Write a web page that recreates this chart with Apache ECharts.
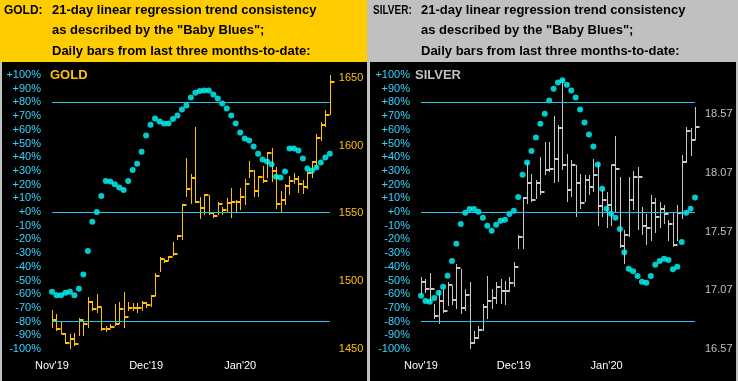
<!DOCTYPE html>
<html><head><meta charset="utf-8">
<script src="https://cdn.jsdelivr.net/npm/echarts/dist/echarts.min.js"></script>
<style>
html,body{margin:0;padding:0;background:#c0c0c0;}
#wrap{position:relative;width:738px;height:381px;overflow:hidden;}
.blk{position:absolute;}
#c{position:absolute;left:0;top:0;width:738px;height:381px;}
</style>
</head><body><div id="wrap">
<div class="blk" style="left:0;top:0;width:367px;height:62px;background:#ffcc00"></div>
<div class="blk" style="left:2px;top:62px;width:365px;height:319px;background:#000"></div>
<div class="blk" style="left:370px;top:0;width:368px;height:62px;background:#c0c0c0"></div>
<div class="blk" style="left:370px;top:62px;width:366px;height:319px;background:#000"></div>
<div id="c"></div></div>
<script>
// ---- categories / tick labels ----
const monthLabels = ["Nov'19", "Dec'19", "Jan'20"];
const monthIndex = [0, 21, 42];
const refLevels = [80, 0, -80];

// ---- GOLD ----
const goldPct = [-58.3,-60.7,-60.7,-59,-58.3,-60.7,-56,-45.6,-28.5,-7.1,
 0,11.7,22.7,22.2,20.3,17.8,16.1,22.7,30.7,35.3,
 43.9,55.8,63.6,68.3,66.1,64.6,64.6,67.8,70.4,74.8,
 77.8,83.6,87,88.3,88.7,88.7,85.8,82.9,79.2,75.6,
 70.4,64.6,58,53.6,52.2,47.8,42.6,38.3,36.8,34.9,
 25.8,25.1,29.5,46.3,46.3,44.8,39,31.7,30.2,32.4,
 36.1,39.7,42.6];
const goldHigh = [1478.7,1475.9,1470.8,1462.1,1460.9,1462.1,1472.8,1470.8,1488.0,1485.6,
 1490.7,1481.1,1467.0,1468.3,1483.1,1484.3,1491.7,1484.3,1484.1,1483.6,
 1485.6,1484.3,1490.0,1505.8,1517.6,1516.4,1518.9,1528.7,1533.7,1556.7,
 1590.5,1578.7,1613.9,1562.1,1564.1,1563.3,1550.0,1558.4,1554.7,1561.1,
 1568.5,1559.6,1568.5,1575.2,1588.5,1581.9,1577.4,1584.8,1595.2,1598.1,
 1584.3,1566.3,1571.5,1577.4,1579.9,1577.4,1574.4,1581.9,1588.5,1608.3,
 1617.4,1626.3,1652.2];
const goldLow = [1465.8,1463.4,1460.9,1453.5,1449.8,1452.2,1459.6,1459.6,1465.8,1478.2,
 1476.9,1463.4,1462.8,1465.3,1467.0,1468.3,1465.8,1478.2,1478.2,1476.9,
 1478.2,1480.2,1481.1,1489.3,1506.5,1513.2,1514.7,1518.9,1530.0,1530.0,
 1562.1,1557.2,1557.4,1546.1,1548.5,1548.5,1546.3,1548.5,1548.5,1550.0,
 1546.3,1550.0,1552.2,1555.9,1575.9,1562.1,1562.1,1572.4,1575.9,1573.2,
 1553.5,1551.0,1555.9,1563.3,1572.0,1565.0,1564.6,1568.3,1575.7,1583.1,
 1603.3,1613.9,1622.6];
const goldClose = [1471.5,1464.8,1461.3,1454.7,1457.2,1453.5,1471.3,1468.3,1484.3,1479.4,
 1481.1,1464.6,1464.6,1466.3,1468.3,1479.4,1473.9,1480.2,1480.4,1480.2,
 1483.6,1482.6,1489.3,1504.1,1516.4,1515.2,1518.1,1520.1,1533.0,1555.9,
 1568.3,1576.1,1558.2,1554.2,1563.3,1550.0,1547.8,1556.7,1552.2,1557.6,
 1558.4,1558.4,1562.1,1571.5,1581.1,1566.5,1576.9,1573.9,1594.4,1581.3,
 1556.7,1560.2,1570.0,1573.9,1575.2,1572.0,1569.5,1579.4,1587.6,1605.3,
 1615.2,1622.6,1646.8];

// ---- SILVER ----
const silverPct = [-61.2,-64.9,-65.6,-62.7,-59,-54.6,-46.6,-35.8,-23.2,-8.8,
 -0.5,2.2,2.2,0.2,-4.2,-10,-13.7,-9.3,-6.4,-5.6,
 -1.5,1,11,27.1,36.1,44.6,54.4,64.4,71.7,81.4,
 90,94.6,96.1,92.9,88.7,83.6,74.8,65.3,56.5,47.8,
 34.6,17,2.4,-1.2,-4.2,-12.4,-29.3,-41.5,-43.2,-46.8,
 -51,-51.7,-46.8,-38.5,-35.8,-34.1,-35.1,-41.7,-40,-21.9,
 -0.5,2.4,10.5];
const silverHigh = [17.185,17.166,17.214,16.952,17.066,17.080,17.137,17.108,17.294,17.251,
 17.080,17.137,16.724,16.767,16.952,17.194,17.080,17.137,17.166,17.151,
 17.179,17.308,17.536,17.863,18.162,18.063,18.006,18.205,18.333,18.331,
 18.555,18.476,18.869,18.226,18.177,18.134,18.063,18.055,18.055,18.191,
 18.157,17.935,17.906,18.140,18.382,18.034,17.579,18.034,18.083,18.120,
 17.778,17.721,17.878,17.855,17.820,17.792,17.664,17.735,17.792,18.220,
 18.461,18.448,18.632];
const silverLow = [17.032,17.043,16.966,16.824,16.781,16.880,16.937,16.946,16.909,16.866,
 16.895,16.567,16.610,16.653,16.724,16.824,16.909,16.952,16.952,16.946,
 17.051,17.094,17.422,17.422,17.807,17.820,17.849,17.878,18.049,18.074,
 17.986,17.991,18.091,17.820,17.863,17.692,17.764,17.820,17.878,17.906,
 17.621,17.692,17.604,17.621,17.735,17.431,17.294,17.521,17.749,17.579,
 17.536,17.452,17.493,17.561,17.604,17.630,17.493,17.442,17.493,17.678,
 18.149,18.214,18.348];
const silverClose = [17.137,17.080,17.080,16.852,16.980,16.895,17.117,16.986,17.260,16.918,
 17.032,16.624,16.667,16.730,16.929,16.980,17.008,17.094,17.066,17.066,
 17.128,17.265,17.527,17.855,17.986,17.835,17.986,17.906,18.091,18.100,
 18.191,18.448,18.140,17.920,18.140,17.986,17.815,18.006,17.949,18.049,
 17.786,17.835,17.798,18.134,18.106,17.450,17.536,17.835,18.034,18.034,
 17.613,17.596,17.815,17.692,17.758,17.715,17.630,17.459,17.724,18.162,
 18.425,18.348,18.461];

// ---- header texts ----
const goldHeader = ["GOLD:", "21-day linear regression trend consistency", "as described by the \"Baby Blues\";", "Daily bars from last three months-to-date:"];
const silverHeader = ["SILVER:", "21-day linear regression trend consistency", "as described by the \"Baby Blues\";", "Daily bars from last three months-to-date:"];

const FONT = "'Liberation Sans', Arial, sans-serif";
const N = goldPct.length;
const cats = Array.from({length: N}, (_, i) => {
  const k = monthIndex.indexOf(i);
  return k >= 0 ? monthLabels[k] : '';
});

function pctFmt(v) { return (v >= 0 ? '+' : '') + v + '%'; }

function hlc(color) {
  return function (params, api) {
    const hi = api.coord([api.value(0), api.value(1)]);
    const lo = api.coord([api.value(0), api.value(2)]);
    const cl = api.coord([api.value(0), api.value(3)]);
    const px = Math.round(hi[0]) + 0.5;
    const cy = Math.round(cl[1]);
    return {
      type: 'group',
      children: [
        {type: 'line', shape: {x1: px, y1: Math.round(hi[1]), x2: px, y2: Math.round(lo[1])}, style: {stroke: color, lineWidth: 1}},
        {type: 'line', shape: {x1: px, y1: cy, x2: px + 4, y2: cy}, style: {stroke: color, lineWidth: 2}}
      ]
    };
  };
}

function xAx(g) {
  return {type: 'category', gridIndex: g, data: cats, boundaryGap: false,
    axisLine: {show: false}, axisTick: {show: false}, splitLine: {show: false},
    axisLabel: {interval: 0, color: '#ffffff', fontSize: 11, fontFamily: FONT, margin: 11}};
}
function pctAx(g) {
  return {type: 'value', gridIndex: g, position: 'left', min: -100, max: 100, interval: 10,
    axisLine: {show: false}, axisTick: {show: false}, splitLine: {show: false},
    axisLabel: {formatter: pctFmt, color: '#33d6ff', fontSize: 11, fontFamily: FONT, margin: 11}};
}

function headerTexts(lines, x0, x1, sx) {
  const ys = [10.5, 31, 51.5];
  const out = [{type: 'text', x: x0, y: ys[0] - 7, scaleX: sx,
    style: {text: lines[0], font: 'bold 13px ' + FONT, fill: '#000'}}];
  for (let i = 1; i < 4; i++) {
    out.push({type: 'text', x: x1, y: ys[i - 1] - 7, style: {text: lines[i], font: 'bold 13px ' + FONT, fill: '#000'}});
  }
  return out;
}

const chart = echarts.init(document.getElementById('c'), null, {renderer: 'canvas'});
chart.setOption({
  animation: false,
  backgroundColor: 'transparent',
  grid: [
    {left: 52, top: 75, width: 277.8, height: 274},
    {left: 421, top: 75, width: 274, height: 274}
  ],
  xAxis: [xAx(0), xAx(1)],
  yAxis: [
    pctAx(0),
    {type: 'value', gridIndex: 0, position: 'right', min: 1450, max: 1652, interval: 50,
      axisLine: {show: false}, axisTick: {show: false}, splitLine: {show: false},
      axisLabel: {color: '#ffc000', fontSize: 11, fontFamily: FONT, margin: 9, showMaxLabel: false,
        formatter: v => String(v)}},
    pctAx(1),
    {type: 'value', gridIndex: 1, position: 'right', min: 16.57, max: 18.902, interval: 0.5,
      axisLine: {show: false}, axisTick: {show: false}, splitLine: {show: false},
      axisLabel: {color: '#c0c0c0', fontSize: 11, fontFamily: FONT, margin: 10, showMaxLabel: false,
        formatter: v => v.toFixed(2)}}
  ],
  graphic: [
    ...headerTexts(goldHeader, 4, 52, 0.92),
    ...headerTexts(silverHeader, 373, 421, 0.77),
    {type: 'text', x: 50, y: 69, style: {text: 'GOLD', font: 'bold 13px ' + FONT, fill: '#ffc000'}},
    {type: 'text', x: 415, y: 69, style: {text: 'SILVER', font: 'bold 13px ' + FONT, fill: '#c0c0c0'}}
  ],
  series: [
    {type: 'custom', xAxisIndex: 0, yAxisIndex: 1, renderItem: hlc('#ffc000'),
      encode: {x: 0, y: [1, 2, 3]},
      data: goldHigh.map((h, i) => [i, h, goldLow[i], goldClose[i]])},
    {type: 'scatter', xAxisIndex: 0, yAxisIndex: 0, symbol: 'circle', symbolSize: 6,
      itemStyle: {color: '#00ffff'}, data: goldPct.map((v, i) => [i, v]),
      markLine: {silent: true, symbol: 'none', label: {show: false},
        lineStyle: {color: '#1ec8f0', width: 1.2, type: 'solid'},
        data: refLevels.map(v => ({yAxis: v}))}},
    {type: 'custom', xAxisIndex: 1, yAxisIndex: 3, renderItem: hlc('#c8c8c8'),
      encode: {x: 0, y: [1, 2, 3]},
      data: silverHigh.map((h, i) => [i, h, silverLow[i], silverClose[i]])},
    {type: 'scatter', xAxisIndex: 1, yAxisIndex: 2, symbol: 'circle', symbolSize: 6,
      itemStyle: {color: '#00ffff'}, data: silverPct.map((v, i) => [i, v]),
      markLine: {silent: true, symbol: 'none', label: {show: false},
        lineStyle: {color: '#1ec8f0', width: 1.2, type: 'solid'},
        data: refLevels.map(v => ({yAxis: v}))}}
  ]
});
</script></body></html>
